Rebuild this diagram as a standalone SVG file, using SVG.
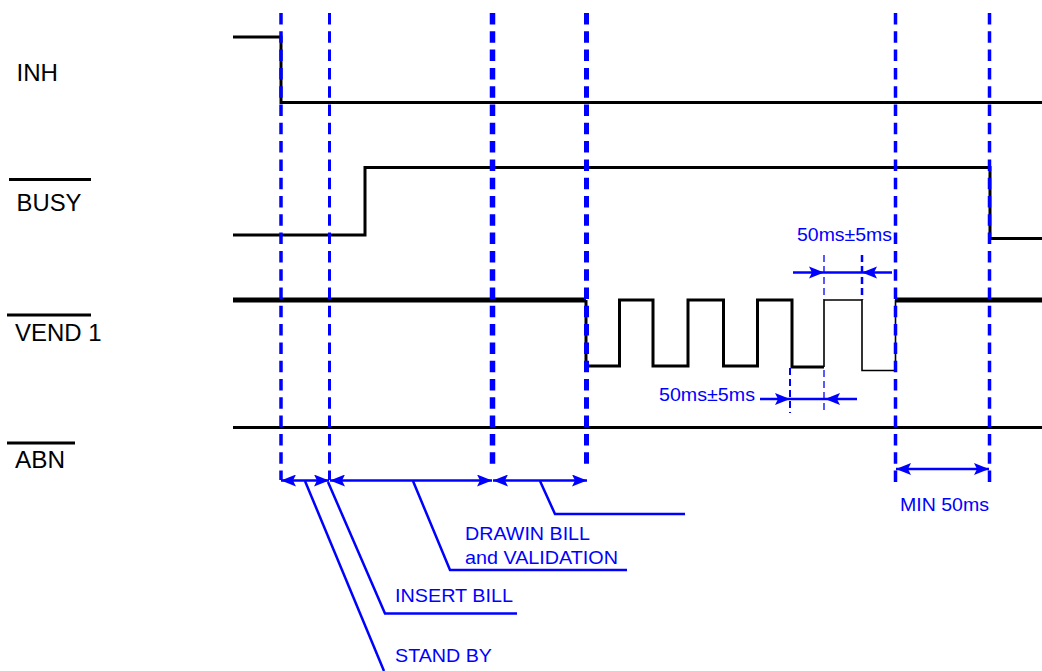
<svg xmlns="http://www.w3.org/2000/svg" width="1042" height="671" viewBox="0 0 1042 671">
<style>
.sig{fill:none;stroke:#000;stroke-width:3;stroke-linejoin:miter}
.lbl{font-family:"Liberation Sans",Arial,sans-serif;font-size:24px;fill:#000}
.bar{stroke:#000;stroke-width:3}
.guide{stroke:#0000ff;stroke-dasharray:11.5 6.8;fill:none}
.dim{stroke:#0000ff;stroke-width:2.5;fill:none}
.lead{stroke:#0000ff;stroke-width:2.5;fill:none}
.thin{stroke:#0000ff;stroke-dasharray:7 4;fill:none}
.bt{font-family:"Liberation Sans",Arial,sans-serif;font-size:19px;fill:#0000ff}
.ah{fill:#0000ff}
</style>
<defs>
<marker id="a" markerUnits="userSpaceOnUse" markerWidth="15" markerHeight="12" viewBox="0 0 15 12" refX="15" refY="6" orient="auto-start-reverse">
<path d="M0,0 L15,6 L0,12 L3,6 z" class="ah"/>
</marker>
</defs>
<rect width="1042" height="671" fill="#fff"/>
<g id="labels">
<g id="label-inh"><text class="lbl" x="16.5" y="81" textLength="41.5" lengthAdjust="spacingAndGlyphs">INH</text></g>
<g id="label-busy"><line class="bar" x1="9" y1="179.5" x2="91" y2="179.5"/><text class="lbl" x="16.5" y="211" textLength="65" lengthAdjust="spacingAndGlyphs">BUSY</text></g>
<g id="label-vend"><line class="bar" x1="7" y1="315" x2="91" y2="315"/><text class="lbl" x="15" y="341" textLength="86.5" lengthAdjust="spacingAndGlyphs">VEND 1</text></g>
<g id="label-abn"><line class="bar" x1="7" y1="443" x2="75" y2="443"/><text class="lbl" x="15" y="468" textLength="50" lengthAdjust="spacingAndGlyphs">ABN</text></g>
</g>
<g id="signals">
<g id="sig-inh"><polyline class="sig" points="233,37 281,37 281,102.5 1042,102.5"/></g>
<g id="sig-busy"><polyline class="sig" points="233,235 365,235 365,167.5 990,167.5 990,238.5 1042,238.5"/></g>
<g id="sig-vend">
<polyline class="sig" style="stroke-width:5" points="233,300 586,300"/>
<polyline class="sig" points="586,300 586,366 619.5,366 619.5,300 653,300 653,366 688,366 688,300 723.5,300 723.5,366 757.5,366 757.5,300 792,300 792,367 824,367"/>
<polyline class="sig" style="stroke-width:1.6" points="824,367 824,300 862,300 862,370.5 895.5,370.5 895.5,300"/>
<polyline class="sig" style="stroke-width:5" points="895,300 1042,300"/>
</g>
<g id="sig-abn"><line class="sig" x1="233" y1="427.5" x2="1042" y2="427.5"/></g>
</g>
<g id="connectors">
<line class="guide" style="stroke-width:3.5" x1="281" y1="13" x2="281" y2="480"/>
<line class="guide" style="stroke-width:3" x1="329.5" y1="13" x2="329.5" y2="480"/>
<line class="guide" style="stroke-width:5.5" x1="492.5" y1="13" x2="492.5" y2="470"/>
<line class="guide" style="stroke-width:5" x1="586.5" y1="13" x2="586.5" y2="470"/>
<line class="guide" style="stroke-width:3.5" x1="895.5" y1="13" x2="895.5" y2="482"/>
<line class="guide" style="stroke-width:3.5" x1="989.5" y1="13" x2="989.5" y2="482"/>
<line class="dim" x1="281" y1="480.5" x2="329" y2="480.5" marker-start="url(#a)" marker-end="url(#a)"/>
<line class="dim" x1="330" y1="480.5" x2="492" y2="480.5" marker-start="url(#a)" marker-end="url(#a)"/>
<line class="dim" x1="493" y1="480.5" x2="587" y2="480.5" marker-start="url(#a)" marker-end="url(#a)"/>
<polyline class="lead" points="305,481 384,671"/>
<polyline class="lead" points="328,482 385,613.5 517,613.5"/>
<polyline class="lead" points="413,481 450,570 627,570"/>
<polyline class="lead" points="540,481 555,514 685,514"/>
<line class="dim" x1="896" y1="469" x2="989" y2="469" marker-start="url(#a)" marker-end="url(#a)"/>
<line class="thin" style="stroke-width:1.3" x1="824" y1="255" x2="824" y2="300"/>
<line class="thin" style="stroke-width:2.5" x1="862" y1="255" x2="862" y2="300"/>
<line class="dim" x1="793" y1="272.5" x2="892" y2="272.5"/>
<path class="ah" d="M809,266.5 L824,272.5 L809,278.5 L812,272.5 z"/>
<path class="ah" d="M877,266.5 L862,272.5 L877,278.5 L874,272.5 z"/>
<line class="thin" style="stroke-width:2" x1="790" y1="368" x2="790" y2="413"/>
<line class="thin" style="stroke-width:1.3" x1="824" y1="370" x2="824" y2="413"/>
<line class="dim" x1="760" y1="399" x2="857" y2="399"/>
<path class="ah" d="M775,393 L790,399 L775,405 L778,399 z"/>
<path class="ah" d="M840,393 L825,399 L840,405 L837,399 z"/>
</g>
<g id="annotations">
<text class="bt" x="797" y="241" textLength="95" lengthAdjust="spacingAndGlyphs">50ms±5ms</text>
<text class="bt" x="659" y="401" textLength="96" lengthAdjust="spacingAndGlyphs">50ms±5ms</text>
<text class="bt" x="900" y="511" textLength="89" lengthAdjust="spacingAndGlyphs">MIN 50ms</text>
<text class="bt" x="465" y="539.5" textLength="125" lengthAdjust="spacingAndGlyphs">DRAWIN BILL</text>
<text class="bt" x="465" y="563.5" textLength="153" lengthAdjust="spacingAndGlyphs">and VALIDATION</text>
<text class="bt" x="395" y="601.5" textLength="118" lengthAdjust="spacingAndGlyphs">INSERT BILL</text>
<text class="bt" x="395" y="662" textLength="97" lengthAdjust="spacingAndGlyphs">STAND BY</text>
</g>
</svg>
